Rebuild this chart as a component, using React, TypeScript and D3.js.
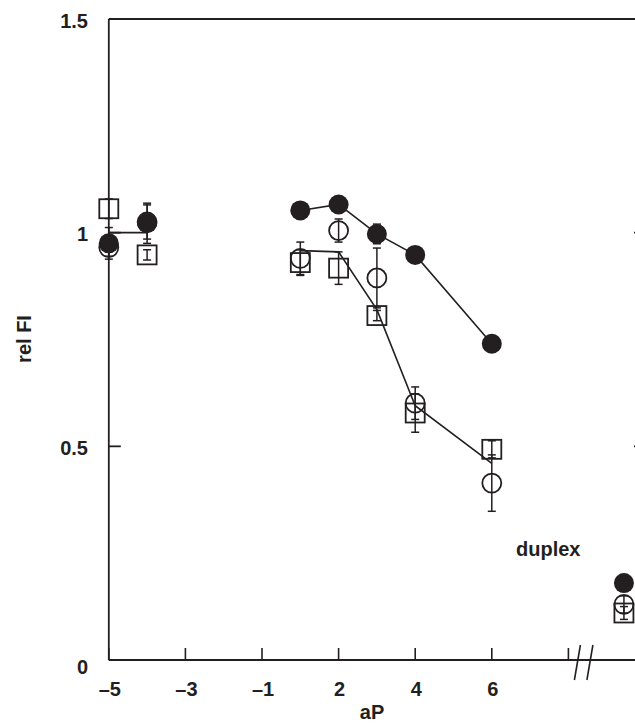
import React from 'react';
import * as d3 from 'd3';

// x positions are ordinal slots (0 is skipped on the axis)
const xSlots = ['-5', '-4', '-3', '-2', '-1', '1', '2', '3', '4', '5', '6', '7', '8'];
const xTickKeys = ['-5', '-3', '-1', '2', '4', '6', '8'];
const xTickLabels = ['–5', '–3', '–1', '2', '4', '6', ''];
const yTicks = [0, 0.5, 1, 1.5];
const yTickLabels = ['0', '0.5', '1', '1.5'];

// measured points
const pointKeys = ['-5', '-4', '1', '2', '3', '4', '6', 'duplex'];
const solidCircle = [0.975, 1.022, 1.052, 1.066, 0.997, 0.948, 0.74, 0.18];
const solidCircleErr = [0.037, 0.047, 0, 0, 0.023, 0, 0, 0.02];
const openCircle = [0.965, 1.025, 0.94, 1.005, 0.894, 0.601, 0.414, 0.13];
const openCircleErr = [0.02, 0.04, 0.038, 0.027, 0.07, 0.038, 0.066, 0.02];
const openSquare = [1.056, 0.948, 0.93, 0.917, 0.806, 0.578, 0.493, 0.11];
const openSquareErr = [0.023, 0.012, 0.03, 0.038, 0.012, 0.045, 0.02, 0.015];

// connecting lines
const solidLineKeys = ['1', '2', '3', '4', '6'];
const solidLine = [1.052, 1.066, 0.997, 0.948, 0.74];
const squareLineKeys = ['1', '2', '3', '4', '6'];
const squareLine = [0.958, 0.955, 0.82, 0.595, 0.46];
const leftLinkKeys = ['-5', '-4'];
const leftLink = [1.0, 1.0];

const INK = '#231f20';
const FONT = '"Liberation Sans", Arial, Helvetica, sans-serif';

export default function App() {
    const W = 635, H = 723;
    const axisLeft = 108.8, axisTop = 19, axisBottom = 660, axisRight = 646;

    const x = d3.scalePoint<string>().domain(xSlots).range([axisLeft, 568.4]);
    const xPos = (k: string) => k === 'duplex' ? x('8')! + 1.45 * x.step() : x(k)!;
    const y = d3.scaleLinear().domain([0, 1.5]).range([axisBottom, axisTop]);

    const line = d3.line<[string, number]>()
        .x(d => xPos(d[0]))
        .y(d => y(d[1]));

    const zip = (keys: string[], vals: number[]) => keys.map((k, i) => [k, vals[i]] as [string, number]);

    const errBar = (k: string, v: number, e: number, key: string) => {
        if (!e) return null;
        const cx = xPos(k);
        return (
            <g key={key} stroke={INK} strokeWidth={1.5}>
                <line x1={cx} x2={cx} y1={y(v - e)} y2={y(v + e)} />
                <line x1={cx - 4} x2={cx + 4} y1={y(v - e)} y2={y(v - e)} />
                <line x1={cx - 4} x2={cx + 4} y1={y(v + e)} y2={y(v + e)} />
            </g>
        );
    };

    const tickLen = 12;
    const breakX = x('8')!;

    return (
        <svg width={W} height={H} style={{ position: 'fixed', left: 0, top: 0 }} fontFamily={FONT}>
            <rect width={W} height={H} fill="white" />

            {/* frame */}
            <g stroke={INK} strokeWidth={1.8} fill="none">
                <line x1={axisLeft} x2={axisLeft} y1={axisTop} y2={axisBottom} />
                <line x1={axisLeft} x2={axisRight} y1={axisTop} y2={axisTop} />
                <line x1={axisLeft} x2={axisRight} y1={axisBottom} y2={axisBottom} />
                <line x1={axisRight} x2={axisRight} y1={axisTop} y2={axisBottom} />
            </g>

            {/* y ticks */}
            <g stroke={INK} strokeWidth={1.8}>
                {yTicks.map(t => (
                    <g key={t}>
                        <line x1={axisLeft} x2={axisLeft + tickLen} y1={y(t)} y2={y(t)} />
                        <line x1={axisRight - tickLen} x2={axisRight} y1={y(t)} y2={y(t)} />
                    </g>
                ))}
            </g>
            {yTicks.map((t, i) => (
                <text key={t} x={88} y={y(t) + (t === 0 ? 7 : 1.5)} textAnchor="end" dominantBaseline="central"
                    fontSize={20} fontWeight="bold" fill={INK}>{yTickLabels[i]}</text>
            ))}

            {/* x ticks */}
            <g stroke={INK} strokeWidth={1.6}>
                {xTickKeys.map(k => (
                    <line key={k} x1={x(k)!} x2={x(k)!} y1={axisBottom} y2={axisBottom - tickLen} />
                ))}
            </g>
            {xTickKeys.map((k, i) => (
                <text key={k} x={x(k)! + 1} y={696} textAnchor="middle" fontSize={20} fontWeight="bold" fill={INK}>
                    {xTickLabels[i]}
                </text>
            ))}

            {/* axis break */}
            <g stroke={INK} strokeWidth={1.6}>
                <line x1={breakX + 6} x2={breakX + 12} y1={680} y2={645} />
                <line x1={breakX + 18.5} x2={breakX + 24.5} y1={680} y2={645} />
            </g>

            {/* axis titles */}
            <text x={372} y={719} textAnchor="middle" fontSize={20} fontWeight="bold" fill={INK}>aP</text>
            <text transform="translate(24,339) rotate(-90)" textAnchor="middle" dominantBaseline="central"
                fontSize={20} fontWeight="bold" fill={INK}>rel FI</text>
            <text x={516} y={556} fontSize={20} fontWeight="bold" fill={INK}>duplex</text>

            {/* connecting lines */}
            <g stroke={INK} strokeWidth={1.6} fill="none">
                <path d={line(zip(solidLineKeys, solidLine))!} />
                <path d={line(zip(squareLineKeys, squareLine))!} />
                <path d={line(zip(leftLinkKeys, leftLink))!} />
            </g>

            {/* open squares */}
            <g stroke={INK} strokeWidth={1.8} fill="none">
                {pointKeys.map((k, i) => (
                    <rect key={k} x={xPos(k) - 9.5} y={y(openSquare[i]) - 9.5} width={19} height={19} />
                ))}
            </g>
            {pointKeys.map((k, i) => errBar(k, openSquare[i], openSquareErr[i], 'se' + k))}

            {/* open circles */}
            <g stroke={INK} strokeWidth={1.8} fill="none">
                {pointKeys.map((k, i) => (
                    <circle key={k} cx={xPos(k)} cy={y(openCircle[i])} r={9.5} />
                ))}
            </g>
            {pointKeys.map((k, i) => errBar(k, openCircle[i], openCircleErr[i], 'ce' + k))}

            {/* solid circles */}
            {pointKeys.map((k, i) => errBar(k, solidCircle[i], solidCircleErr[i], 'fe' + k))}
            <g fill={INK}>
                {pointKeys.map((k, i) => (
                    <circle key={k} cx={xPos(k)} cy={y(solidCircle[i])} r={10} />
                ))}
            </g>
        </svg>
    );
}
